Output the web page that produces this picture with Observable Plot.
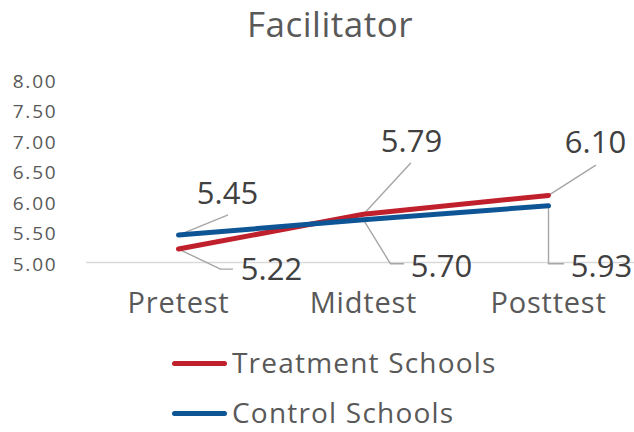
<!DOCTYPE html>
<html>
<head>
<meta charset="utf-8">
<script src="https://cdn.jsdelivr.net/npm/d3@7"></script>
<script src="https://cdn.jsdelivr.net/npm/@observablehq/plot@0.6"></script>
<style>
  body { margin: 0; background: #fff; }
  #wrap { position: relative; width: 634px; height: 432px; overflow: hidden;
          font-family: "Open Sans", sans-serif; color: #595959; }
  #title { position: absolute; left: 0; width: 660px; top: 6px; text-align: center;
           font-size: 35px; line-height: 1; letter-spacing: 0.5px; }
  #chart { position: absolute; left: 0; top: 0; }
  .swatch { position: absolute; left: 172px; width: 55px; height: 5px; border-radius: 3px; }
  .legend-label { position: absolute; left: 232px; font-size: 28px; line-height: 1;
                  letter-spacing: 1.2px; white-space: nowrap; }
  .facil g[aria-label="y-axis tick label"] text { letter-spacing: 1.8px; }
  .facil g[aria-label="x-axis tick label"] text { letter-spacing: 0.8px; }
</style>
</head>
<body>
<div id="wrap">
  <div id="title">Facilitator</div>
  <div id="chart"></div>
  <div id="legend"></div>
</div>
<script>
// Mean facilitator scores by test wave
const categories = ["Pretest", "Midtest", "Posttest"];
const seriesNames = ["Treatment Schools", "Control Schools"];
const treatment = [5.22, 5.79, 6.10];
const control = [5.45, 5.70, 5.93];
const yTicks = [5.00, 5.50, 6.00, 6.50, 7.00, 7.50, 8.00];

const colors = ["#C0202C", "#0E5596"];
const fmt = d3.format(".2f");

// Scale configuration
const xDomain = [-0.5, categories.length - 0.5];
const xRange = [85.5, 640.5];
const yDomain = [5, 8];
const yRange = [262, 79];
const pxPerStep = (xRange[1] - xRange[0]) / (xDomain[1] - xDomain[0]);
const pxPerUnit = (yRange[0] - yRange[1]) / (yDomain[1] - yDomain[0]);

// Data-label placement: leader bends and label centres, in pixels from each point
const leaderBends = [
  [[[42, 20], [54, 20]], [[47, -51]], [[47, -30]]],
  [[[49, -20]], [[27, 44], [40, 44]], [[0, 58], [15, 58]]]
];
const labelOffsets = [
  [[93, 21], [48, -72], [47, -52]],
  [[49, -41], [78, 47], [53, 61]]
];

const values = [treatment, control];
const rows = [];
values.forEach((vals, s) => vals.forEach((v, i) =>
  rows.push({series: seriesNames[s], s, i, value: v})));

const shift = (i, v, [dx, dy]) => ({x: i + dx / pxPerStep, y: v - dy / pxPerUnit});

const leaders = [];
const labels = [];
rows.forEach((r, k) => {
  leaders.push({key: k, x: r.i, y: r.value});
  leaderBends[r.s][r.i].forEach(off => leaders.push({key: k, ...shift(r.i, r.value, off)}));
  labels.push({text: fmt(r.value), ...shift(r.i, r.value, labelOffsets[r.s][r.i])});
});

const chart = Plot.plot({
  className: "facil",
  width: 634,
  height: 340,
  marginTop: 79,
  marginBottom: 78,
  marginLeft: 86,
  marginRight: 0,
  style: {fontFamily: "'Open Sans', sans-serif", color: "#595959", background: "transparent", overflow: "visible"},
  x: {domain: xDomain, range: xRange},
  y: {domain: yDomain, range: yRange},
  color: {domain: seriesNames, range: colors},
  marks: [
    Plot.ruleY([5], {stroke: "#d9d9d9", strokeWidth: 1.3}),
    Plot.axisY(yTicks, {tickSize: 0, tickPadding: 29, tickFormat: fmt, fontSize: 19, fill: "#595959", dy: 2}),
    Plot.axisX([0, 1, 2], {tickSize: 0, tickPadding: 30, tickFormat: i => categories[i], fontSize: 29, fill: "#595959"}),
    Plot.line(leaders, {x: "x", y: "y", z: "key", stroke: "#a6a6a6", strokeWidth: 1.4}),
    Plot.line(rows, {x: "i", y: "value", z: "series", stroke: "series", strokeWidth: 5, strokeLinecap: "round", strokeLinejoin: "round"}),
    Plot.text(labels, {x: "x", y: "y", text: "text", fontSize: 31, fill: "#404040", textAnchor: "middle", lineAnchor: "middle"})
  ]
});
document.getElementById("chart").appendChild(chart);

// Legend rows
const legend = document.getElementById("legend");
const swatchTops = [360.5, 411];
const labelTops = [348, 398];
seriesNames.forEach((name, s) => {
  const sw = document.createElement("div");
  sw.className = "swatch";
  sw.style.top = swatchTops[s] + "px";
  sw.style.background = colors[s];
  legend.appendChild(sw);
  const lb = document.createElement("div");
  lb.className = "legend-label";
  lb.style.top = labelTops[s] + "px";
  lb.textContent = name;
  legend.appendChild(lb);
});
</script>
</body>
</html>
